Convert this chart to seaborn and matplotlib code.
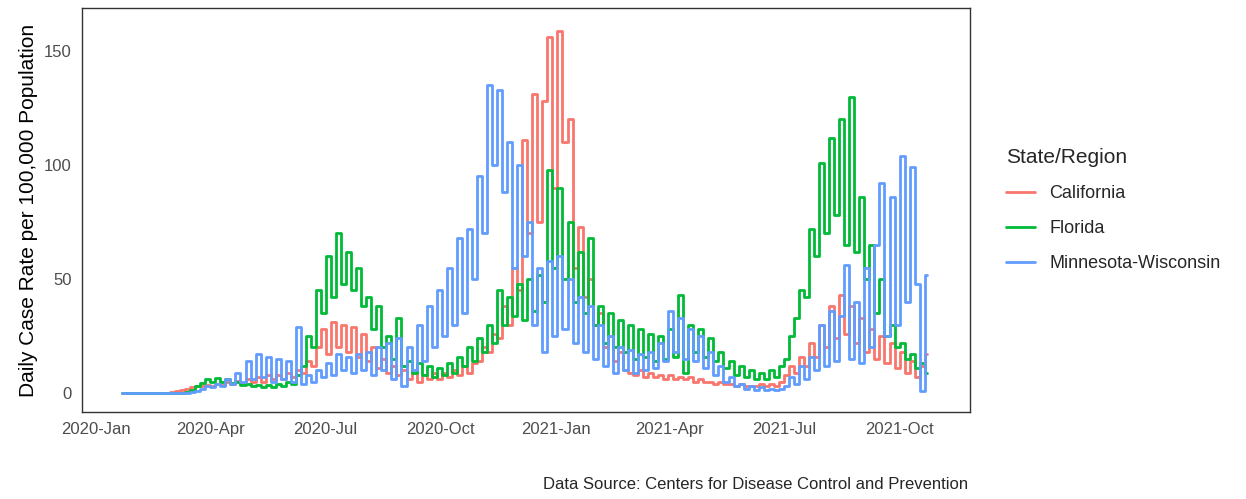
import matplotlib
matplotlib.use("Agg")
import matplotlib.pyplot as plt
import matplotlib.dates as mdates
import seaborn as sns
import pandas as pd

# daily case rates, one value every 4 days from 2020-01-22
start_date = "2020-01-22"
step = "4D"

california = [
    0, 0, 0, 0, 0, 0, 0, 0, 0, 0,
    0.5, 1, 1.5, 2, 2.5, 3, 3, 3.5, 3, 4,
    3.5, 5, 4, 5.5, 4.5, 6, 5, 7, 5, 8,
    6, 8, 6, 9, 7, 10, 9, 14, 12, 20,
    28, 17, 31, 20, 30, 18, 29, 16, 26, 14,
    20, 11, 15, 9, 12, 8, 10, 6, 9, 5,
    8, 6, 9, 6, 9, 7, 10, 8, 12, 9,
    13, 14, 20, 18, 26, 24, 38, 30, 55, 45,
    111, 70, 131, 75, 128, 156, 90, 159, 110, 120,
    55, 73, 42, 50, 30, 35, 20, 25, 14, 18,
    10, 9, 8, 10, 7, 9, 7, 8, 6, 8,
    6, 7, 6, 7, 5, 6, 5, 5, 4, 5,
    4, 4, 3, 4, 3, 3, 3, 4, 3, 4,
    3, 5, 8, 12, 9, 16, 12, 22, 16, 30,
    20, 38, 24, 43, 26, 38, 22, 33, 18, 28,
    15, 25, 13, 22, 11, 18, 9, 14, 7, 12,
    17,
]

florida = [
    0, 0, 0, 0, 0, 0, 0, 0, 0, 0,
    0, 0, 0, 0.5, 1.5, 3, 4.5, 6, 5, 6.5,
    5, 6, 4.5, 5, 3.5, 4, 3, 3.5, 2.5, 3.5,
    2.5, 4, 3, 5, 4, 8, 12, 25, 20, 45,
    35, 60, 42, 70, 48, 62, 45, 55, 38, 42,
    28, 38, 20, 25, 15, 33, 12, 14, 9, 13,
    8, 12, 7, 11, 8, 13, 9, 16, 12, 20,
    14, 24, 18, 30, 22, 45, 30, 42, 34, 48,
    32, 50, 36, 52, 40, 98, 55, 90, 50, 75,
    40, 62, 35, 68, 30, 38, 22, 35, 20, 32,
    18, 30, 15, 28, 16, 26, 14, 25, 15, 28,
    16, 43, 9, 30, 18, 28, 16, 24, 14, 18,
    11, 14, 8, 12, 7, 10, 6, 9, 6, 10,
    7, 12, 15, 25, 33, 45, 42, 72, 60, 101,
    70, 112, 78, 120, 65, 130, 62, 86, 50, 65,
    35, 50, 25, 30, 20, 22, 15, 17, 11, 13,
    9,
]

minn_wisc = [
    0, 0, 0, 0, 0, 0, 0, 0, 0, 0,
    0, 0, 0, 0, 0.5, 1, 2, 3, 2.5, 4,
    3, 6, 4, 9, 5, 14, 6, 17, 7, 16,
    5, 15, 6, 14, 5, 29, 4, 8, 5, 10,
    7, 13, 8, 17, 10, 16, 9, 17, 10, 18,
    8, 20, 10, 22, 6, 24, 3, 20, 10, 30,
    14, 38, 20, 45, 25, 55, 30, 68, 35, 72,
    50, 95, 70, 135, 100, 133, 88, 110, 55, 100,
    60, 75, 30, 55, 18, 58, 25, 60, 28, 50,
    22, 42, 18, 38, 15, 30, 12, 25, 9, 20,
    10, 19, 9, 17, 10, 18, 11, 22, 14, 36,
    18, 33, 15, 28, 14, 25, 11, 18, 8, 12,
    5, 7, 3, 4, 2, 3, 1.5, 2.5, 1.5, 2,
    1.5, 2, 3, 7, 4, 12, 6, 16, 10, 30,
    12, 36, 14, 34, 56, 15, 40, 13, 55, 20,
    65, 92, 25, 86, 30, 104, 40, 99, 48, 1,
    52,
]

states = ["California", "Florida", "Minnesota-Wisconsin"]
colors = ["#F8766D", "#00BA38", "#619CFF"]

dates = pd.date_range(start_date, periods=len(california), freq=step)
frames = []
for name, vals in zip(states, [california, florida, minn_wisc]):
    frames.append(pd.DataFrame({"date": dates, "rate": vals, "State/Region": name}))
df = pd.concat(frames, ignore_index=True)

sns.set_style("white")
plt.rcParams["font.family"] = ["Liberation Sans", "DejaVu Sans"]

fig = plt.figure(figsize=(12.46, 4.99), dpi=100)
ax = fig.add_axes([0.0658, 0.1743, 0.7127, 0.8097])

# step drawing gives the blocky daily-report look of the original
sns.lineplot(
    data=df, x="date", y="rate", hue="State/Region",
    palette=dict(zip(states, colors)), linewidth=2.0, ax=ax,
    drawstyle="steps-mid",
)

ax.set_xlim(pd.Timestamp("2019-12-21"), pd.Timestamp("2021-11-26"))
ax.set_ylim(-8.3, 168.9)
ax.set_yticks([0, 50, 100, 150])
ax.xaxis.set_major_locator(mdates.MonthLocator(bymonth=[1, 4, 7, 10]))
ax.xaxis.set_major_formatter(mdates.DateFormatter("%Y-%b"))
ax.tick_params(axis="both", length=4, width=0.8, color="#333333",
               labelcolor="#4D4D4D", labelsize=12, direction="out")
ax.set_xlabel("")
ax.set_ylabel("Daily Case Rate per 100,000 Population", fontsize=15, color="black")

for spine in ax.spines.values():
    spine.set_color("#333333")
    spine.set_linewidth(1.0)

handles, labels = ax.get_legend_handles_labels()
ax.legend(handles, labels, title="State/Region", loc="center left",
          bbox_to_anchor=(1.022, 0.5), frameon=False, fontsize=13,
          title_fontsize=15, handlelength=1.6, labelspacing=1.0,
          alignment="left")

fig.text(0.777, 0.015, "Data Source: Centers for Disease Control and Prevention",
         ha="right", va="bottom", fontsize=12)

fig.savefig("out.png", dpi=100)
